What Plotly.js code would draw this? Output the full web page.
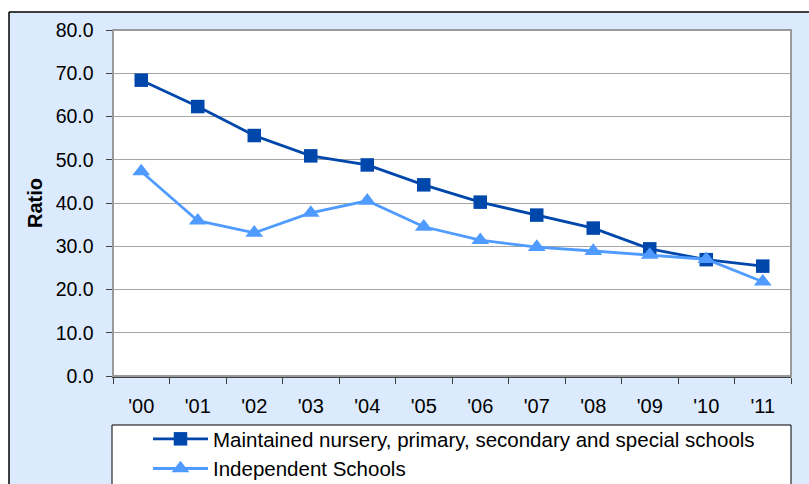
<!DOCTYPE html>
<html><head><meta charset="utf-8">
<script src="https://cdn.plot.ly/plotly-3.0.1.min.js"></script>
<style>html,body{margin:0;padding:0;background:#fff;}#chart{width:809px;height:484px;}</style>
</head><body><div id="chart"></div>
<script>
const years = ["'00","'01","'02","'03","'04","'05","'06","'07","'08","'09","'10","'11"];
const maintained = [68.4, 62.3, 55.6, 50.9, 48.8, 44.2, 40.2, 37.2, 34.2, 29.4, 26.9, 25.4];
const independent = [47.3, 35.9, 33.1, 37.7, 40.5, 34.5, 31.4, 29.8, 28.9, 28.0, 27.0, 21.8];
const seriesNames = ["Maintained nursery, primary, secondary and special schools", "Independent Schools"];

const W = 809, H = 484, L = 113, R = 18, T = 30, B = 108;
const pw = W - L - R, ph = H - T - B;
const px = v => (v - L) / pw;
const py = v => (H - B - v) / ph;

const font = "Arial, 'Liberation Sans', sans-serif";
const traces = [
  {x: years, y: maintained, name: seriesNames[0], type: 'scatter', mode: 'lines+markers',
   legendgroup: 'a',
   line: {color: '#0047ab', width: 2.8}, marker: {symbol: 'square', size: 13.5, color: '#0047ab'}},
  {x: years, y: independent, name: seriesNames[1], type: 'scatter', mode: 'lines+markers',
   legendgroup: 'b',
   line: {color: '#4f9bff', width: 2.8}, marker: {symbol: 'triangle-up', size: 15.5, color: '#4f9bff'}}
];
const layout = {
  width: W, height: H,
  margin: {l: L, r: R, t: T, b: B, pad: 0, autoexpand: false},
  paper_bgcolor: '#dbeafd', plot_bgcolor: '#ffffff',
  font: {family: font, size: 19, color: '#000'},
  showlegend: true,
  legend: {x: px(148), y: py(419), xanchor: 'left', yanchor: 'top', bgcolor: 'rgba(0,0,0,0)',
           borderwidth: 0, font: {family: font, size: 20.5, color: '#000'}, itemwidth: 55,
           traceorder: 'grouped', tracegroupgap: 0},
  xaxis: {type: 'category', range: [-0.5, 11.5], autorange: false, showgrid: false, zeroline: false,
          showline: true, linecolor: '#404040', linewidth: 1.5,
          ticks: 'outside', ticklen: 6, tickcolor: '#404040', tickson: 'boundaries', ticklabelstandoff: 11,
          tickfont: {family: font, size: 20, color: '#000'}, fixedrange: true},
  yaxis: {range: [0, 80], autorange: false, dtick: 10, tickformat: '.1f', showgrid: true, gridcolor: '#a6a6a6', gridwidth: 1,
          zeroline: false, showline: true, linecolor: '#404040', linewidth: 1.5,
          ticks: 'outside', ticklen: 6, tickcolor: '#404040', ticklabelstandoff: 8,
          tickfont: {family: font, size: 19.5, color: '#000'}, fixedrange: true},
  annotations: [
    {text: '<b>Ratio</b>', xref: 'paper', yref: 'paper', x: px(35), y: 0.5, textangle: -90,
     showarrow: false, font: {family: font, size: 20, color: '#000'}, xanchor: 'center', yanchor: 'middle'}
  ],
  shapes: [
    {type: 'rect', xref: 'paper', yref: 'paper', x0: px(-5), x1: px(815), y0: py(12), y1: py(-5),
     fillcolor: '#ffffff', line: {width: 0}, layer: 'below'},
    {type: 'rect', xref: 'paper', yref: 'paper', x0: px(-5), x1: px(9), y0: py(-5), y1: py(490),
     fillcolor: '#ffffff', line: {width: 0}, layer: 'below'},
    {type: 'line', xref: 'paper', yref: 'paper', x0: px(9), x1: px(815), y0: py(12), y1: py(12),
     line: {color: '#000', width: 1.5}},
    {type: 'line', xref: 'paper', yref: 'paper', x0: px(9), x1: px(9), y0: py(12), y1: py(490),
     line: {color: '#000', width: 1.5}},
    {type: 'rect', xref: 'paper', yref: 'paper', x0: 0, x1: 1, y0: 0, y1: 1,
     line: {color: '#9a9a9a', width: 2}, fillcolor: 'rgba(0,0,0,0)', layer: 'above'},
    {type: 'rect', xref: 'paper', yref: 'paper', x0: px(112), x1: px(791), y0: py(425), y1: py(495),
     line: {color: '#000', width: 1}, fillcolor: '#ffffff', layer: 'below'}
  ]
};
Plotly.newPlot('chart', traces, layout, {displayModeBar: false, staticPlot: true});
</script></body></html>
